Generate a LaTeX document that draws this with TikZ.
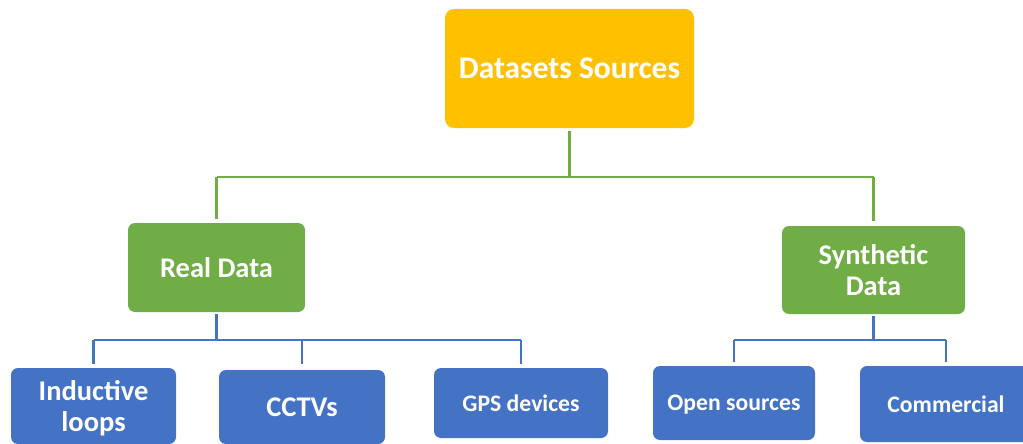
\documentclass[tikz,border=0pt]{standalone}
\usepackage{fontspec}
\setmainfont{Carlito}
\definecolor{gold}{HTML}{FFC000}
\definecolor{leaf}{HTML}{70AD47}
\definecolor{sky}{HTML}{4472C4}
\tikzset{
  box/.style={rectangle, rounded corners=7pt, draw=none, text=white, font=\bfseries, align=center, inner sep=0pt},
  topbox/.style={box, fill=gold, rounded corners=9pt, font=\bfseries\fontsize{31.5}{34}\selectfont},
  midbox/.style={box, fill=leaf, font=\bfseries\fontsize{28.5}{31.5}\selectfont},
  leafbig/.style={box, fill=sky, font=\bfseries\fontsize{28.5}{30.5}\selectfont},
  leafsmall/.style={box, fill=sky, font=\bfseries\fontsize{23.7}{26}\selectfont},
  gline/.style={draw=leaf, line width=2.8pt},
  bline/.style={draw=sky, line width=2.8pt},
}
\begin{document}
\begin{tikzpicture}[x=1pt,y=-1pt]
\useasboundingbox (0,0) rectangle (1023,444);
\node[topbox, minimum width=249pt, minimum height=119pt] (top) at (569.5,68.5) {Datasets Sources};
\node[midbox, minimum width=177pt, minimum height=89pt] (real) at (216.5,267.5) {Real Data};
\node[midbox, minimum width=183pt, minimum height=88pt] (synth) at (873.5,270) {Synthetic\\Data};
\node[leafbig, minimum width=165pt, minimum height=76pt, text depth=0pt] (ind) at (93.5,406) {Inductive\\loops};
\node[leafbig, minimum width=166pt, minimum height=74pt] (cctv) at (302,407) {CCTVs};
\node[leafsmall, minimum width=174pt, minimum height=70pt] (gps) at (521,403) {GPS devices};
\node[leafsmall, minimum width=162pt, minimum height=74pt, text depth=0pt] (open) at (734,403) {Open sources};
\node[leafsmall, minimum width=172pt, minimum height=76pt] (comm) at (946,404) {Commercial};
\coordinate (gy) at (0,177);
\coordinate (by) at (0,340);
\draw[gline] ([yshift=-3pt]top.south) -- (top.south |- gy);
\draw[gline] (real.north |- gy) -- (synth.north |- gy);
\draw[gline] (real.north |- gy) -- ([yshift=4pt]real.north);
\draw[gline] (synth.north |- gy) -- ([yshift=5pt]synth.north);
\draw[bline] ([yshift=-2pt]real.south) -- (real.south |- by);
\draw[bline] (ind.north |- by) -- (gps.north |- by);
\draw[bline] (ind.north |- by) -- ([yshift=4pt]ind.north);
\draw[bline] (cctv.north |- by) -- ([yshift=6pt]cctv.north);
\draw[bline] (gps.north |- by) -- ([yshift=4pt]gps.north);
\draw[bline] ([yshift=-2pt]synth.south) -- (synth.south |- by);
\draw[bline] (open.north |- by) -- (comm.north |- by);
\draw[bline] (open.north |- by) -- ([yshift=4pt]open.north);
\draw[bline] (comm.north |- by) -- ([yshift=4pt]comm.north);
\end{tikzpicture}
\end{document}
